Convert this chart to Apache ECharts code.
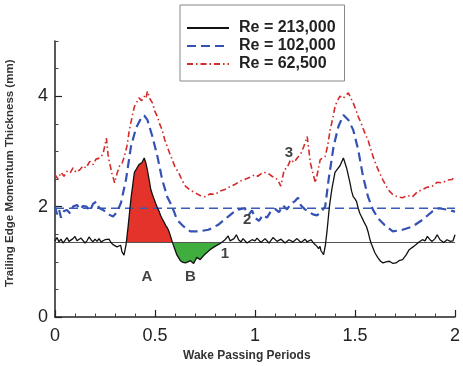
<!DOCTYPE html>
<html><head><meta charset="utf-8">
<script src="https://cdn.jsdelivr.net/npm/echarts@6/dist/echarts.min.js"></script>
<style>html,body{margin:0;padding:0;background:#fff}#c{width:463px;height:366px}</style>
</head><body><div id="c"></div>
<script>
const seriesNames = ['Re = 213,000', 'Re = 102,000', 'Re = 62,500'];
const xTicks = [0, 0.5, 1, 1.5, 2];
const yTicks = [0, 2, 4];
const meanBlack = 1.35;
const meanBlue = 1.97;
const fillA = [0.357, 0.588];
const fillB = [0.588, 0.833];

const black = [[0,1.38],[0.01,1.44],[0.02,1.36],[0.03,1.41],[0.04,1.34],[0.05,1.39],[0.06,1.44],[0.07,1.37],[0.08,1.35],[0.09,1.42],[0.10,1.46],[0.11,1.38],[0.12,1.36],[0.13,1.43],[0.14,1.40],[0.15,1.34],[0.16,1.38],[0.17,1.45],[0.18,1.40],[0.19,1.36],[0.20,1.41],[0.21,1.37],[0.22,1.42],[0.23,1.36],[0.24,1.33],[0.25,1.40],[0.26,1.37],[0.27,1.41],[0.28,1.35],[0.29,1.31],[0.30,1.34],[0.31,1.27],[0.32,1.25],[0.328,1.30],[0.335,1.18],[0.345,1.12],[0.355,1.30],[0.365,1.62],[0.38,2.15],[0.397,2.62],[0.41,2.70],[0.42,2.76],[0.435,2.80],[0.446,2.88],[0.455,2.78],[0.462,2.66],[0.47,2.50],[0.479,2.31],[0.487,2.22],[0.495,2.14],[0.503,2.06],[0.512,1.98],[0.52,1.92],[0.528,1.84],[0.536,1.78],[0.545,1.72],[0.553,1.66],[0.561,1.62],[0.57,1.55],[0.578,1.46],[0.59,1.32],[0.60,1.22],[0.61,1.12],[0.627,1.02],[0.64,0.99],[0.652,0.98],[0.665,1.00],[0.677,1.02],[0.685,0.99],[0.693,0.97],[0.709,1.08],[0.726,1.04],[0.74,1.10],[0.751,1.14],[0.775,1.22],[0.80,1.28],[0.82,1.32],[0.833,1.35],[0.85,1.40],[0.866,1.47],[0.875,1.38],[0.88,1.37],[0.895,1.42],[0.907,1.49],[0.918,1.40],[0.93,1.36],[0.94,1.42],[0.95,1.40],[0.96,1.34],[0.97,1.35],[0.985,1.40],[1.0,1.38],[1.01,1.43],[1.02,1.41],[1.03,1.35],[1.04,1.36],[1.05,1.42],[1.06,1.40],[1.07,1.34],[1.08,1.37],[1.09,1.44],[1.10,1.42],[1.11,1.37],[1.12,1.36],[1.13,1.41],[1.14,1.39],[1.15,1.34],[1.16,1.35],[1.17,1.40],[1.18,1.41],[1.19,1.36],[1.20,1.37],[1.21,1.42],[1.22,1.40],[1.23,1.35],[1.24,1.38],[1.25,1.41],[1.26,1.36],[1.27,1.38],[1.28,1.40],[1.29,1.35],[1.30,1.32],[1.31,1.28],[1.318,1.24],[1.325,1.28],[1.33,1.20],[1.343,1.13],[1.352,1.30],[1.36,1.55],[1.372,2.00],[1.384,2.31],[1.40,2.62],[1.412,2.68],[1.425,2.74],[1.442,2.88],[1.458,2.70],[1.475,2.43],[1.483,2.28],[1.491,2.18],[1.50,2.14],[1.508,2.09],[1.516,1.97],[1.524,1.88],[1.532,1.82],[1.54,1.76],[1.548,1.70],[1.557,1.64],[1.565,1.55],[1.573,1.43],[1.58,1.34],[1.59,1.25],[1.60,1.16],[1.615,1.07],[1.628,1.01],[1.64,0.98],[1.655,1.00],[1.672,1.01],[1.69,0.97],[1.705,0.98],[1.72,1.02],[1.738,1.04],[1.755,1.12],[1.771,1.22],[1.79,1.27],[1.804,1.31],[1.82,1.36],[1.837,1.40],[1.85,1.38],[1.862,1.46],[1.875,1.40],[1.886,1.37],[1.90,1.42],[1.911,1.49],[1.925,1.40],[1.944,1.35],[1.96,1.40],[1.977,1.37],[1.99,1.38],[2.0,1.49]];

const blue = [[0,2.00],[0.01,1.86],[0.02,1.95],[0.03,1.80],[0.045,1.92],[0.06,1.94],[0.075,1.88],[0.09,2.00],[0.11,2.03],[0.125,1.95],[0.14,2.01],[0.158,2.00],[0.175,1.92],[0.19,2.05],[0.207,2.09],[0.22,1.98],[0.24,1.94],[0.255,1.90],[0.273,1.85],[0.29,1.82],[0.31,1.90],[0.33,2.07],[0.355,2.49],[0.38,3.09],[0.405,3.42],[0.43,3.60],[0.446,3.65],[0.462,3.57],[0.487,3.27],[0.512,2.91],[0.536,2.49],[0.561,2.18],[0.586,2.00],[0.61,1.76],[0.643,1.64],[0.677,1.55],[0.718,1.55],[0.767,1.58],[0.816,1.67],[0.866,1.82],[0.907,1.94],[0.948,1.97],[0.97,1.86],[0.985,1.93],[1.0,1.80],[1.02,1.74],[1.04,1.85],[1.06,1.80],[1.08,1.92],[1.10,1.96],[1.12,1.90],[1.14,2.02],[1.16,1.95],[1.18,2.05],[1.20,2.10],[1.215,2.16],[1.23,2.02],[1.25,1.95],[1.27,1.90],[1.29,1.86],[1.31,1.84],[1.33,1.90],[1.351,2.00],[1.368,2.49],[1.393,3.09],[1.417,3.45],[1.442,3.66],[1.467,3.57],[1.491,3.39],[1.516,3.03],[1.54,2.55],[1.565,2.18],[1.59,1.94],[1.615,1.79],[1.647,1.67],[1.689,1.55],[1.738,1.58],[1.788,1.64],[1.837,1.76],[1.886,1.91],[1.919,1.97],[1.968,1.94],[2.0,1.91]];

const red = [[0,2.58],[0.015,2.50],[0.03,2.62],[0.045,2.55],[0.06,2.64],[0.076,2.61],[0.09,2.70],[0.105,2.62],[0.125,2.67],[0.14,2.74],[0.155,2.70],[0.174,2.82],[0.19,2.76],[0.205,2.86],[0.224,2.88],[0.24,2.95],[0.257,3.24],[0.265,2.95],[0.273,2.79],[0.285,2.60],[0.298,2.43],[0.31,2.60],[0.322,2.73],[0.335,2.78],[0.347,2.91],[0.36,3.10],[0.372,3.39],[0.385,3.62],[0.397,3.81],[0.41,3.90],[0.42,3.97],[0.433,3.92],[0.446,4.00],[0.455,3.96],[0.462,4.09],[0.475,3.95],[0.487,3.88],[0.50,3.72],[0.512,3.63],[0.525,3.48],[0.536,3.39],[0.548,3.22],[0.561,3.09],[0.575,2.95],[0.586,2.85],[0.60,2.72],[0.619,2.61],[0.635,2.48],[0.652,2.37],[0.675,2.30],[0.701,2.25],[0.725,2.20],[0.751,2.18],[0.775,2.23],[0.80,2.22],[0.825,2.28],[0.849,2.31],[0.875,2.36],[0.899,2.40],[0.925,2.46],[0.948,2.49],[0.975,2.53],[1.0,2.58],[1.014,2.55],[1.04,2.62],[1.063,2.61],[1.085,2.55],[1.113,2.49],[1.129,2.37],[1.146,2.67],[1.16,2.70],[1.178,2.85],[1.195,2.80],[1.211,2.88],[1.228,2.95],[1.244,3.09],[1.261,3.27],[1.27,3.00],[1.277,2.79],[1.29,2.60],[1.302,2.43],[1.315,2.65],[1.326,2.85],[1.351,2.91],[1.363,3.10],[1.376,3.39],[1.39,3.62],[1.40,3.81],[1.412,3.92],[1.425,4.00],[1.44,3.96],[1.45,3.94],[1.467,4.06],[1.48,3.96],[1.491,3.88],[1.505,3.75],[1.516,3.63],[1.53,3.52],[1.54,3.42],[1.553,3.30],[1.565,3.21],[1.578,3.05],[1.59,2.91],[1.605,2.76],[1.623,2.61],[1.64,2.48],[1.656,2.37],[1.672,2.28],[1.689,2.22],[1.71,2.18],[1.738,2.16],[1.76,2.20],[1.788,2.18],[1.81,2.26],[1.837,2.31],[1.86,2.35],[1.886,2.37],[1.91,2.44],[1.936,2.43],[1.96,2.48],[1.985,2.49],[2.0,2.55]];

const annotations = [['A',0.459,0.735],['B',0.677,0.735],['1',0.849,1.15],['2',0.961,1.76],['3',1.17,2.97]];

function segment(data, range, base) {
  const pts = data.filter(p => p[0] > range[0] && p[0] < range[1]);
  return [[range[0], base]].concat(pts, [[range[1], base]]);
}

const chart = echarts.init(document.getElementById('c'));
const font = 'Liberation Sans, Arial, sans-serif';
const axisColor = '#222';
chart.setOption({
  animation: false,
  backgroundColor: '#fff',
  grid: { left: 55, right: 3, top: 41, bottom: 49 },
  legend: {
    data: seriesNames.map(n => ({ name: n, itemStyle: { opacity: 0 } })),
    orient: 'vertical', left: 180, top: 5,
    itemWidth: 42, itemHeight: 14, itemGap: 2,
    backgroundColor: '#fff', borderColor: '#888', borderWidth: 1,
    padding: [15, 9, 9, 6],
    textStyle: { fontFamily: font, fontWeight: 'bold', fontSize: 16, color: '#222', padding: [0, 0, 0, 5] }
  },
  xAxis: {
    type: 'value', min: 0, max: 2, interval: 0.5,
    axisLine: { show: true, lineStyle: { color: axisColor, width: 1.5 } },
    axisTick: { show: true, inside: true, length: 7, lineStyle: { color: axisColor, width: 1.2 } },
    minorTick: { show: true, splitNumber: 5, length: 3.5, lineStyle: { color: '#444', width: 1 } },
    axisLabel: { fontFamily: font, fontSize: 18, color: '#222', margin: 10, formatter: v => xTicks.includes(v) ? String(v) : '' },
    splitLine: { show: false }
  },
  yAxis: [{
    type: 'value', min: 0, max: 5, interval: 1,
    axisLine: { show: true, lineStyle: { color: axisColor, width: 1.5 } },
    axisTick: { show: true, inside: true, length: 3.5, lineStyle: { color: '#444', width: 1 } },
    minorTick: { show: true, splitNumber: 2, length: 3.5, lineStyle: { color: '#444', width: 1 } },
    axisLabel: { fontFamily: font, fontSize: 18, color: '#222', margin: 7, formatter: v => yTicks.includes(v) ? String(v) : '' },
    splitLine: { show: false }
  }, {
    type: 'value', min: 0, max: 5, position: 'left',
    axisLine: { show: false },
    axisTick: { show: true, inside: true, length: 7, customValues: yTicks, lineStyle: { color: axisColor, width: 1.2 } },
    axisLabel: { show: false },
    splitLine: { show: false }
  }],
  graphic: [
    { type: 'text', left: 183, top: 350, style: { text: 'Wake Passing Periods', font: 'bold 12px ' + font, fill: '#333' } },
    { type: 'text', x: 4, y: 287, rotation: Math.PI / 2, style: { text: 'Trailing Edge Momentum Thickness (mm)', font: 'bold 11.5px ' + font, fill: '#333' } }
  ],
  series: [
    { name: 'fillA', type: 'line', data: segment(black, fillA, meanBlack), symbol: 'none', silent: true,
      lineStyle: { width: 0 }, areaStyle: { color: '#e4332a', opacity: 1, origin: meanBlack }, z: 1 },
    { name: 'fillB', type: 'line', data: segment(black, fillB, meanBlack), symbol: 'none', silent: true,
      lineStyle: { width: 0 }, areaStyle: { color: '#3fae3f', opacity: 1, origin: meanBlack }, z: 1 },
    { name: 'meanBlack', type: 'line', data: [[0, meanBlack], [2, meanBlack]], symbol: 'none', silent: true,
      lineStyle: { color: '#555', width: 1.2 }, z: 2 },
    { name: 'meanBlue', type: 'line', data: [[0, meanBlue], [2, meanBlue]], symbol: 'none', silent: true,
      lineStyle: { color: '#3a5cb8', width: 1.6, type: [9, 5] }, z: 2 },
    { name: seriesNames[2], type: 'line', data: red, symbol: 'none', color: '#d42a2a',
      lineStyle: { color: '#d42a2a', width: 1.6, type: [6, 3, 1.5, 3] }, z: 3 },
    { name: seriesNames[1], type: 'line', data: blue, symbol: 'none', color: '#3452b4',
      lineStyle: { color: '#3452b4', width: 2.2, type: [9, 5] }, z: 4 },
    { name: seriesNames[0], type: 'line', data: black, symbol: 'none', color: '#111',
      lineStyle: { color: '#111', width: 1.3 }, z: 5 },
    { name: 'labels', type: 'scatter', symbolSize: 0, silent: true, z: 6,
      data: annotations.map(a => ({ name: a[0], value: [a[1], a[2]] })),
      label: { show: true, position: 'inside', formatter: p => p.name, fontFamily: font, fontWeight: 'bold', fontSize: 15, color: '#111' } }
  ]
});
</script></body></html>
